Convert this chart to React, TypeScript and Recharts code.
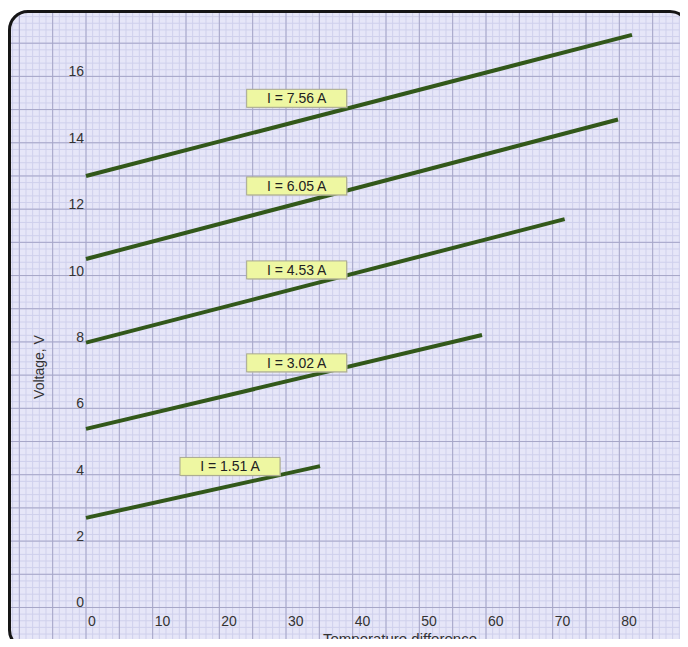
import React from "react";
import {
  LineChart,
  Line,
  XAxis,
  YAxis,
  CartesianGrid,
  ReferenceDot,
  Label,
} from "recharts";

// one line per current, [temperature difference, voltage]
const line756 = [
  { t: 0, v: 13.0 },
  { t: 81.9, v: 17.25 },
];
const line605 = [
  { t: 0, v: 10.5 },
  { t: 79.8, v: 14.7 },
];
const line453 = [
  { t: 0, v: 7.98 },
  { t: 71.8, v: 11.7 },
];
const line302 = [
  { t: 0, v: 5.38 },
  { t: 59.4, v: 8.21 },
];
const line151 = [
  { t: 0, v: 2.7 },
  { t: 35.1, v: 4.26 },
];

const seriesList = [line756, line605, line453, line302, line151];

// label boxes: text + where the box center sits (data units)
const boxTexts = ["I = 7.56 A", "I = 6.05 A", "I = 4.53 A", "I = 3.02 A", "I = 1.51 A"];
const boxX = [31.6, 31.6, 31.6, 31.6, 21.6];
const boxY = [15.34, 12.7, 10.17, 7.37, 4.25];

const xTicks = [0, 10, 20, 30, 40, 50, 60, 70, 80];
const yTicks = [0, 2, 4, 6, 8, 10, 12, 14, 16];

const X_MIN = -12;
const X_MAX = 90;
const Y_MIN = -1.1;
const Y_MAX = 18;

const W = 688;
const H = 647;
// axes take 1px each (zero-size axes are not drawn)
const MARGIN = { top: 10, right: 2, bottom: 2, left: 5 };
const PX_X = (W - MARGIN.left - 1 - MARGIN.right) / (X_MAX - X_MIN);
const PX_Y = (H - MARGIN.top - MARGIN.bottom - 1) / (Y_MAX - Y_MIN);
const X0 = MARGIN.left + 1 + (0 - X_MIN) * PX_X;
const Y0 = MARGIN.top + Y_MAX * PX_Y;

const minorX: number[] = [];
for (let i = -12; i <= 90; i++) minorX.push(i);
const majorX = minorX.filter((v) => v % 5 === 0);
const minorY: number[] = [];
for (let i = -5; i <= 90; i++) minorY.push(i / 5);
const majorY = minorY.filter((v) => Number.isInteger(v));

const FONT = "'Liberation Sans', Arial, sans-serif";
const LINE_COLOR = "#32581a";

function YTick({ y, payload }: any) {
  return (
    <text x={X0 - 2} y={y} textAnchor="end" fontSize={14} fill="#333" fontFamily={FONT}>
      {payload.value}
    </text>
  );
}

function XTick({ x, payload }: any) {
  return (
    <text x={x + 2} y={Y0 + 19} textAnchor="start" fontSize={14} fill="#333" fontFamily={FONT}>
      {payload.value}
    </text>
  );
}

function BoxLabel({ cx, cy, text }: any) {
  const w = 100;
  const h = 18;
  return (
    <g>
      <rect x={cx - w / 2 + 1} y={cy - h / 2 + 1} width={w} height={h} fill="#c8c8b0" opacity={0.6} />
      <rect x={cx - w / 2} y={cy - h / 2} width={w} height={h} fill="#eef7a2" stroke="#a8a890" strokeWidth={1} />
      <text x={cx} y={cy + 5} textAnchor="middle" fontSize={14} fill="#222" fontFamily={FONT}>
        {text}
      </text>
    </g>
  );
}

export default function App() {
  return (
    <div style={{ position: "relative", width: W, height: H, margin: -8, overflow: "hidden", background: "#fff" }}>
      <div
        style={{
          position: "absolute",
          left: 8,
          top: 10,
          width: 682,
          height: 640,
          background: "#e6e6f8",
          borderRadius: 20,
        }}
      />
      <div style={{ position: "absolute", left: 0, top: 0, clipPath: "inset(13px 0px 0px 11px round 17px)" }}>
        <LineChart width={W} height={H} margin={MARGIN}>
          <CartesianGrid
            stroke="#cfd0ec"
            strokeWidth={1}
            verticalValues={minorX}
            horizontalValues={minorY}
          />
          <CartesianGrid
            stroke="#a6a6c8"
            strokeWidth={1}
            verticalValues={majorX}
            horizontalValues={majorY}
          />
          <XAxis
            type="number"
            dataKey="t"
            domain={[X_MIN, X_MAX]}
            ticks={xTicks}
            interval={0}
            height={1}
            axisLine={false}
            tickLine={false}
            tick={<XTick />}
            allowDataOverflow
          >
            <Label
              content={() => (
                <text x={323} y={644} fontSize={15} fill="#333" fontFamily={FONT}>
                  Temperature difference
                </text>
              )}
            />
          </XAxis>
          <YAxis
            type="number"
            domain={[Y_MIN, Y_MAX]}
            ticks={yTicks}
            interval={0}
            width={1}
            axisLine={false}
            tickLine={false}
            tick={<YTick />}
            allowDataOverflow
          >
            <Label
              content={() => (
                <text
                  x={44}
                  y={367}
                  transform="rotate(-90 44 367)"
                  textAnchor="middle"
                  fontSize={14}
                  fill="#333"
                  fontFamily={FONT}
                >
                  Voltage, V
                </text>
              )}
            />
          </YAxis>
          {seriesList.map((s, i) => (
            <Line
              key={i}
              data={s}
              dataKey="v"
              type="linear"
              stroke={LINE_COLOR}
              strokeWidth={4}
              dot={false}
              activeDot={false}
              isAnimationActive={false}
            />
          ))}
          {boxTexts.map((txt, i) => (
            <ReferenceDot
              key={txt}
              x={boxX[i]}
              y={boxY[i]}
              shape={(p: any) => <BoxLabel cx={p.cx} cy={p.cy} text={txt} />}
            />
          ))}
        </LineChart>
      </div>
      <div
        style={{
          position: "absolute",
          left: 8,
          top: 10,
          width: 682,
          height: 640,
          border: "3px solid #151515",
          borderRadius: 20,
          boxSizing: "border-box",
          pointerEvents: "none",
        }}
      />
    </div>
  );
}
